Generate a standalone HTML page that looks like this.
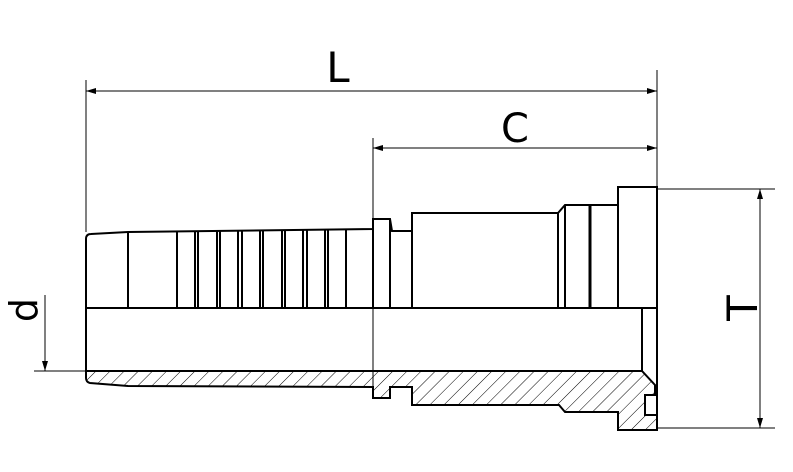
<!DOCTYPE html>
<html><head><style>
html,body{margin:0;padding:0;background:#fff;}
svg{display:block;}
text{font-family:"DejaVu Sans","Liberation Sans",sans-serif;fill:#000;}
</style></head><body>
<svg width="793" height="472" viewBox="0 0 793 472" xmlns="http://www.w3.org/2000/svg">
<defs>
<pattern id="h" patternUnits="userSpaceOnUse" width="10" height="10" patternTransform="rotate(45)">
<line x1="0" y1="0" x2="0" y2="10" stroke="#000" stroke-width="1"/>
</pattern>
<marker id="a" markerWidth="10" markerHeight="6" refX="10" refY="3" orient="auto" markerUnits="userSpaceOnUse">
<path d="M0,0 L10,3 L0,6 Z" fill="#000"/>
</marker>
</defs>
<!-- hatched section -->
<path d="M86,371 L642,371 L655,385 L655,395 L645,395 L645,415 L657,415 L657,430 L618,430 L618,412 L565,412 L559,405 L412,405 L412,387 L390,387 L390,398 L373,398 L373,387 L128,386 L90,383 Q86,382 86,378 Z" fill="url(#h)" stroke="#000" stroke-width="2"/>
<!-- outer top profile -->
<g fill="none" stroke="#000" stroke-width="2">
<path d="M86,308 L86,239 Q86,234 91,234 L128,232 L373,229 L373,219 L390,219 L392,231 L412,231 L412,213 L558,213 L565,205 L618,205 L618,187 L657,187 L657,430"/>
<line x1="86" y1="308" x2="657" y2="308"/>
<line x1="86" y1="308" x2="86" y2="378"/>
<line x1="642" y1="308" x2="642" y2="371"/>
<line x1="128" y1="232" x2="128" y2="308"/>
<line x1="177" y1="231" x2="177" y2="308"/>
<line x1="346" y1="230" x2="346" y2="308"/>
<line x1="373" y1="229" x2="373" y2="308"/>
<line x1="390" y1="219" x2="390" y2="308"/>
<line x1="412" y1="231" x2="412" y2="308"/>
<line x1="558" y1="213" x2="558" y2="308"/>
<line x1="565" y1="205" x2="565" y2="308"/>
<line x1="590" y1="205" x2="590" y2="308" stroke-width="3"/>
<line x1="618" y1="205" x2="618" y2="308"/>
</g>
<g stroke="#000" stroke-width="2">
<line x1="195" y1="231" x2="195" y2="308"/><line x1="198" y1="231" x2="198" y2="308"/>
<line x1="217" y1="231" x2="217" y2="308"/><line x1="220" y1="231" x2="220" y2="308"/>
<line x1="238" y1="231" x2="238" y2="308"/><line x1="242" y1="231" x2="242" y2="308"/>
<line x1="260" y1="231" x2="260" y2="308"/><line x1="263" y1="231" x2="263" y2="308"/>
<line x1="282" y1="230" x2="282" y2="308"/><line x1="285" y1="230" x2="285" y2="308"/>
<line x1="303" y1="230" x2="303" y2="308"/><line x1="307" y1="230" x2="307" y2="308"/>
<line x1="325" y1="230" x2="325" y2="308"/><line x1="328" y1="230" x2="328" y2="308"/>
</g>
<!-- dimensions -->
<g stroke="#000" stroke-width="1" fill="none">
<line x1="86" y1="80" x2="86" y2="232"/>
<line x1="657" y1="70" x2="657" y2="187"/>
<line x1="86" y1="91" x2="657" y2="91" marker-end="url(#a)"/>
<line x1="657" y1="91" x2="86" y2="91" marker-end="url(#a)"/>
<line x1="373" y1="138" x2="373" y2="398"/>
<line x1="373" y1="148" x2="657" y2="148" marker-end="url(#a)"/>
<line x1="657" y1="148" x2="373" y2="148" marker-end="url(#a)"/>
<line x1="657" y1="189" x2="775" y2="189"/>
<line x1="657" y1="428" x2="775" y2="428"/>
<line x1="760" y1="308" x2="760" y2="189" marker-end="url(#a)"/>
<line x1="760" y1="308" x2="760" y2="428" marker-end="url(#a)"/>
<line x1="34" y1="371" x2="86" y2="371"/>
<line x1="45" y1="295" x2="45" y2="371" marker-end="url(#a)"/>
</g>
<text x="338" y="82" font-size="42" text-anchor="middle">L</text>
<text x="515" y="142" font-size="40" text-anchor="middle">C</text>
<text transform="translate(743,308) rotate(-90)" font-size="42" text-anchor="middle" dy="14">T</text>
<text transform="translate(25,310) rotate(-90)" font-size="38" text-anchor="middle" dy="12">d</text>
</svg>
</body></html>
